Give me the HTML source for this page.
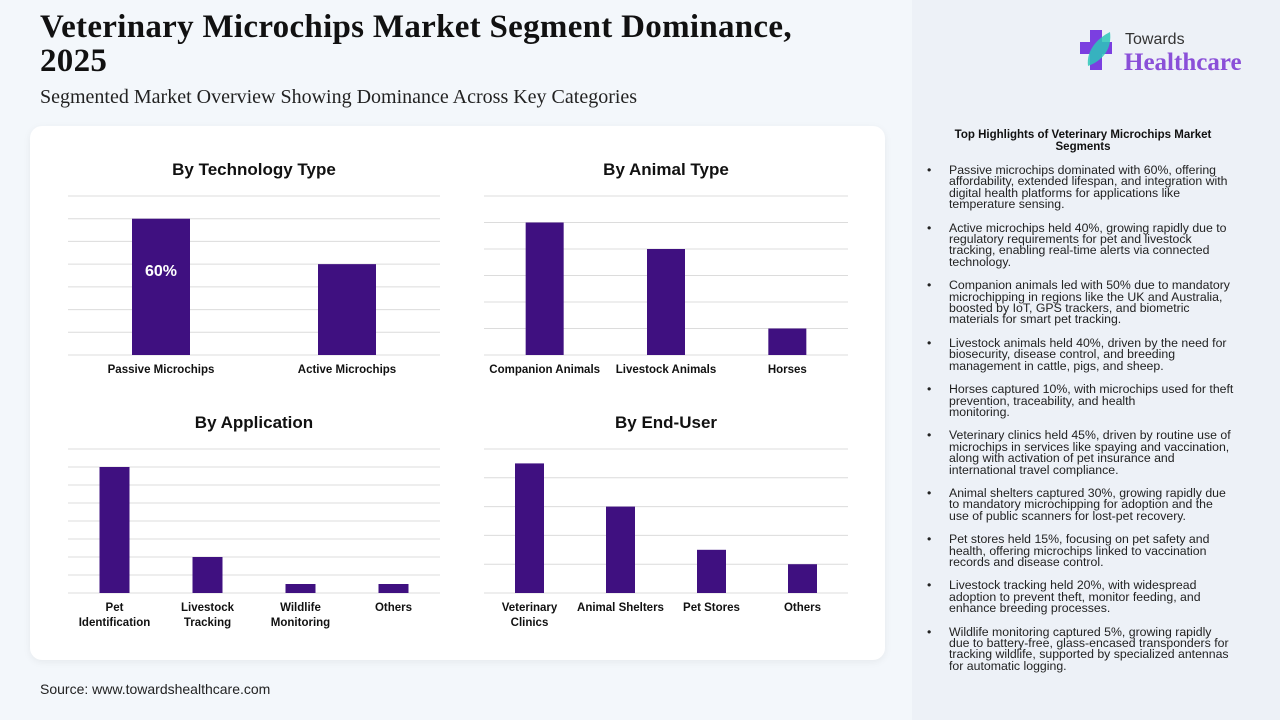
<!DOCTYPE html>
<html><head><meta charset="utf-8">
<style>
*{margin:0;padding:0;box-sizing:border-box}
body{width:1280px;height:720px;overflow:hidden;background:#f1f5f9;font-family:"Liberation Sans",sans-serif;position:relative}
.left{position:absolute;left:0;top:0;width:912px;height:720px;background:#f3f7fb}
.right{position:absolute;left:912px;top:0;width:368px;height:720px;background:#edf1f7}
h1{position:absolute;left:40px;top:10px;font-family:"Liberation Serif",serif;font-size:33px;line-height:34px;font-weight:bold;color:#111;width:820px;letter-spacing:0.3px}
.sub{position:absolute;left:40px;top:86px;font-family:"Liberation Serif",serif;font-size:20px;color:#222}
.card{position:absolute;left:30px;top:126px;width:855px;height:534px;background:#fff;border-radius:12px;box-shadow:0 2px 8px rgba(0,0,0,.06)}
.src{position:absolute;left:40px;top:681px;font-size:14px;color:#222}
.hl-title{position:absolute;left:930px;top:129px;width:306px;text-align:center;font-weight:bold;font-size:11.5px;line-height:12px;color:#111}
ul{position:absolute;left:927px;top:165px;width:307px;list-style:none}
li{position:relative;padding-left:22px;font-size:12.3px;line-height:11.4px;color:#222;margin-bottom:12px;letter-spacing:0}
li:before{content:"•";position:absolute;left:0;top:0}
.logo{position:absolute;left:1080px;top:28px}
</style></head><body>
<div class="left"></div>
<div class="right"></div>
<h1>Veterinary Microchips Market Segment Dominance, 2025</h1>
<div class="sub">Segmented Market Overview Showing Dominance Across Key Categories</div>
<div class="card"></div>
<svg id="charts" width="912" height="720" style="position:absolute;left:0;top:0"></svg>
<div class="src">Source: www.towardshealthcare.com</div>
<div class="logo">
<svg width="175" height="50">
<rect x="10" y="2" width="12" height="40" fill="#7b3fe0"/><rect x="0" y="14" width="32" height="12" fill="#7b3fe0"/>
<path d="M8 38 C6 22 18 10 30 4 C32 20 24 32 8 38Z" fill="#2cc7b8" opacity=".85"/>
<text x="45" y="16" font-family="Liberation Sans" font-size="16" fill="#333">Towards</text>
<text x="44" y="42" font-family="Liberation Serif" font-weight="bold" font-size="25" fill="#8a4fd8">Healthcare</text>
</svg></div>
<div class="hl-title">Top Highlights of Veterinary Microchips Market Segments</div>
<ul>
<li>Passive microchips dominated with 60%, offering affordability, extended lifespan, and integration with digital health platforms for applications like temperature sensing.</li>
<li>Active microchips held 40%, growing rapidly due to regulatory requirements for pet and livestock tracking, enabling real-time alerts via connected technology.</li>
<li>Companion animals led with 50% due to mandatory microchipping in regions like the UK and Australia, boosted by IoT, GPS trackers, and biometric materials for smart pet tracking.</li>
<li>Livestock animals held 40%, driven by the need for biosecurity, disease control, and breeding management in cattle, pigs, and sheep.</li>
<li>Horses captured 10%, with microchips used for theft prevention, traceability, and health<br>monitoring.</li>
<li>Veterinary clinics held 45%, driven by routine use of microchips in services like spaying and vaccination, along with activation of pet insurance and international travel compliance.</li>
<li>Animal shelters captured 30%, growing rapidly due to mandatory microchipping for adoption and the use of public scanners for lost-pet recovery.</li>
<li>Pet stores held 15%, focusing on pet safety and health, offering microchips linked to vaccination records and disease control.</li>
<li>Livestock tracking held 20%, with widespread adoption to prevent theft, monitor feeding, and enhance breeding processes.</li>
<li>Wildlife monitoring captured 5%, growing rapidly due to battery-free, glass-encased transponders for tracking wildlife, supported by specialized antennas for automatic logging.</li>
</ul>
<script>
const techCats=["Passive Microchips","Active Microchips"];
const techVals=[60,40];
const animalCats=["Companion Animals","Livestock Animals","Horses"];
const animalVals=[50,40,10];
const appCats=[["Pet","Identification"],["Livestock","Tracking"],["Wildlife","Monitoring"],["Others"]];
const appVals=[70,20,5,5];
const endCats=[["Veterinary","Clinics"],["Animal Shelters"],["Pet Stores"],["Others"]];
const endVals=[45,30,15,10];

const NS="http://www.w3.org/2000/svg";
const svg=document.getElementById('charts');
function el(t,a,p){const e=document.createElementNS(NS,t);for(const k in a)e.setAttribute(k,a[k]);(p||svg).appendChild(e);return e;}
function chart(name,title,cats,vals,o){
  const g=el('g',{});
  
  
  const t=el('text',{x:(o.x0+o.x1)/2,y:o.ty,'text-anchor':'middle','font-size':17,'font-weight':'bold',fill:'#111'},g);
  t.textContent=title;
  
  
  const ys=v=>o.base-(v/o.max)*(o.base-o.top);
  for(let v=0;v<=o.max;v+=o.step){
    const ln=el('line',{x1:o.x0,x2:o.x1,y1:ys(v),y2:ys(v),stroke:'#dcdcdc','stroke-width':1},g);
    
    
  }
  const bw=(o.x1-o.x0)/cats.length;
  cats.forEach((c,i)=>{
    const cx=o.x0+bw*(i+0.5);
    const r=el('rect',{x:cx-o.barW/2,y:ys(vals[i]),width:o.barW,height:o.base-ys(vals[i]),fill:'#3f1080'},g);
    
    
    const lines=Array.isArray(c)?c:[c];
    lines.forEach((s,j)=>{
      const tx=el('text',{x:cx,y:o.base+18+j*15,'text-anchor':'middle','font-size':11.5,'font-weight':'bold',fill:'#111'},g);
      tx.textContent=s;
      
      
    });
    if(o.label&&i===0){
      const lb=el('text',{x:cx,y:ys(vals[i])+(o.base-ys(vals[i]))*0.42,'text-anchor':'middle','font-size':16,'font-weight':'bold',fill:'#fff'},g);
      lb.textContent=vals[i]+'%';
      
      
    }
  });
}
chart('technology-chart','By Technology Type',techCats,techVals,{x0:68,x1:440,top:196,base:355,max:70,step:10,barW:58,ty:175,label:true});
chart('animal-chart','By Animal Type',animalCats,animalVals,{x0:484,x1:848,top:196,base:355,max:60,step:10,barW:38,ty:175});
chart('application-chart','By Application',appCats,appVals,{x0:68,x1:440,top:449,base:593,max:80,step:10,barW:30,ty:428});
chart('end-user-chart','By End-User',endCats,endVals,{x0:484,x1:848,top:449,base:593,max:50,step:10,barW:29,ty:428});
</script>
</body></html>
